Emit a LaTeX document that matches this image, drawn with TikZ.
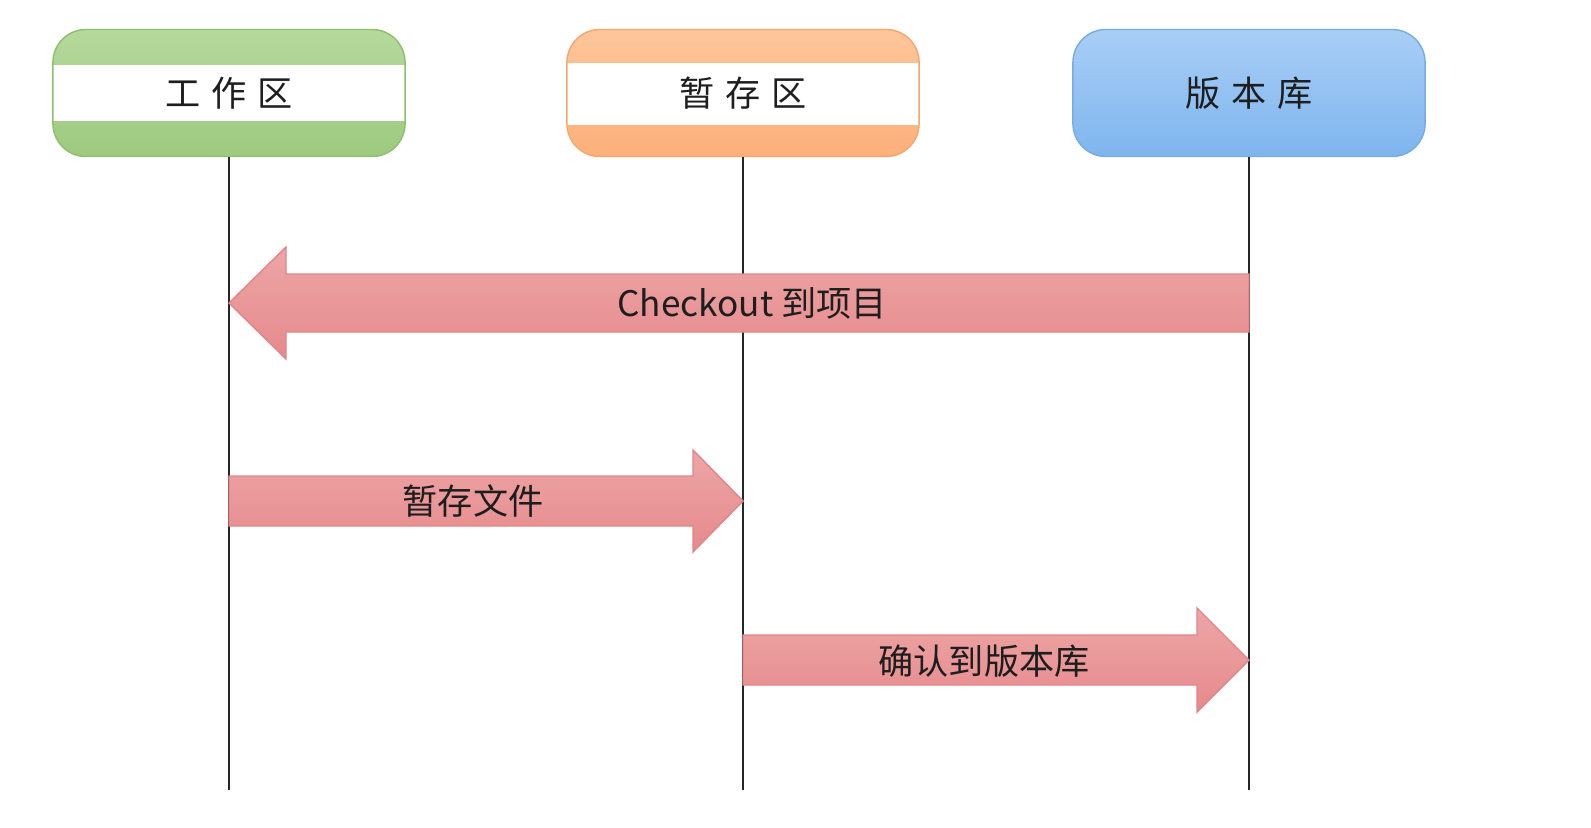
\documentclass[tikz,border=0pt]{standalone}
\usepackage{fontspec}
\setmainfont{Noto Sans CJK SC}
\usetikzlibrary{calc}
\definecolor{worktop}{HTML}{B5D99C}
\definecolor{workbot}{HTML}{9DCA7F}
\definecolor{workline}{HTML}{8DC06E}
\definecolor{stagetop}{HTML}{FDC69A}
\definecolor{stagebot}{HTML}{FDB07A}
\definecolor{stageline}{HTML}{F7A56C}
\definecolor{repotop}{HTML}{A9CEF6}
\definecolor{repobot}{HTML}{7EB5EE}
\definecolor{repoline}{HTML}{76ACE6}
\definecolor{arrowtop}{HTML}{EDA6A6}
\definecolor{arrowbot}{HTML}{E6898C}
\definecolor{arrowline}{HTML}{E28488}
\definecolor{ink}{HTML}{1E1E1E}
\newcommand\hgap{\hspace{.3em}}
\tikzset{
  header/.style={minimum width=3.52cm, minimum height=1.27cm, rounded corners=.33cm,
    line width=.4pt, text=ink, font=\fontsize{10}{12}\selectfont},
  band/.style 2 args={path picture={
    \fill[white, sharp corners] ($(path picture bounding box.north west)!#1!(path picture bounding box.south west)$)
      rectangle ($(path picture bounding box.north east)!#2!(path picture bounding box.south east)$);}},
  lifeline/.style={line width=.7pt, black!85},
  bigarrow/.style={top color=arrowtop, bottom color=arrowbot, draw=arrowline, line width=.4pt},
  arrowtext/.style={text=ink, font=\fontsize{10}{12}\selectfont}
}
\begin{document}
\begin{tikzpicture}[x=0.01cm, y=-0.01cm]
\useasboundingbox (0,0) rectangle (1591,827);
% three areas
\node[header, top color=worktop, bottom color=workbot, draw=workline, band={.276}{.724}] (work) at (229,93) {工\hgap 作\hgap 区};
\node[header, top color=stagetop, bottom color=stagebot, draw=stageline, band={.26}{.748}] (stage) at (743,93) {暂\hgap 存\hgap 区};
\node[header, top color=repotop, bottom color=repobot, draw=repoline] (repo) at (1249,93) {版\hgap 本\hgap 库};
% lifelines
\foreach \n in {work,stage,repo}
{
\coordinate (\n bot) at (\n.south |- 0,790);
\draw[lifeline] (\n.south)--(\n bot);
}
% block arrows: from / to / y / half body / half head / head length / side
\foreach \from/\to/\y/\bh/\hh/\hl/\s in {repo/work/303/29/56/57/1, work/stage/501/25/51/50/-1, stage/repo/660/25/52/52/-1}
{
\coordinate (tail) at (\from.south |- 0,\y);
\coordinate (tip) at (\to.south |- 0,\y);
\draw[bigarrow] ($(tail)+(0,-\bh)$)--($(tip)+(\s*\hl,-\bh)$)--($(tip)+(\s*\hl,-\hh)$)--(tip)
  --($(tip)+(\s*\hl,\hh)$)--($(tip)+(\s*\hl,\bh)$)--($(tail)+(0,\bh)$)--cycle;
}
\node[arrowtext] (checkout) at (752,303) {Checkout 到项目};
\node[arrowtext] (add) at (473,501) {暂存文件};
\node[arrowtext] (commit) at (984,661) {确认到版本库};
\end{tikzpicture}
\end{document}
